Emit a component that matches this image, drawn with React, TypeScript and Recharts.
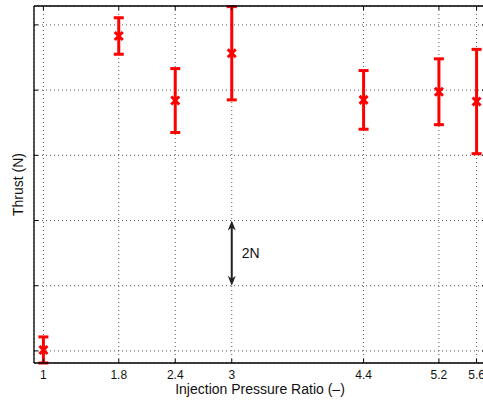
import React from 'react';
import { ScatterChart, Scatter, XAxis, YAxis, CartesianGrid, ErrorBar, ReferenceLine, Label } from 'recharts';

const pressureRatios = [1, 1.8, 2.4, 3, 4.4, 5.2, 5.6];
const thrustValues = [0.03, 9.66, 7.68, 9.13, 7.7, 7.95, 7.65];
const thrustErrors = [0.4, 0.56, 0.98, 1.43, 0.9, 1.01, 1.6];
const xTicks = [1, 1.8, 2.4, 3, 4.4, 5.2, 5.6];
const yTicks = [0, 2, 4, 6, 8, 10];
const xDomain = [0.9, 5.7];
const yDomain = [-0.37, 10.58];
const scaleBar = { x: 3, from: 2, to: 4, text: '2N' };

const data = pressureRatios.map((x, i) => ({ x, y: thrustValues[i], err: thrustErrors[i] }));

const FONT = 'Liberation Sans, Arial, Helvetica, sans-serif';
const RED = '#ff0000';

const BottomTick = (props: any) => {
  const { x, y, payload } = props;
  return (
    <g>
      <line x1={x} x2={x} y1={y} y2={y - 4} stroke="#000" strokeWidth={1} />
      <text x={x} y={y + 15.5} textAnchor="middle" fontSize={12} fill="#111" fontFamily={FONT}>
        {payload.value}
      </text>
    </g>
  );
};

const TopTick = (props: any) => {
  const { x, y } = props;
  return <line x1={x} x2={x} y1={y} y2={y + 4} stroke="#000" strokeWidth={1} />;
};

const LeftTick = (props: any) => {
  const { x, y } = props;
  return <line x1={x} x2={x + 4} y1={y} y2={y} stroke="#000" strokeWidth={1} />;
};

const RightTick = (props: any) => {
  const { x, y } = props;
  return <line x1={x} x2={x - 4} y1={y} y2={y} stroke="#000" strokeWidth={1} />;
};

const XMarker = (props: any) => {
  const { cx, cy } = props;
  const s = 4;
  return (
    <g stroke={RED} strokeWidth={3}>
      <line x1={cx - s} y1={cy - s} x2={cx + s} y2={cy + s} />
      <line x1={cx - s} y1={cy + s} x2={cx + s} y2={cy - s} />
    </g>
  );
};

const ArrowShape = (props: any) => {
  const { x1, y1, x2, y2 } = props;
  const top = Math.min(y1, y2);
  const bot = Math.max(y1, y2);
  const x = x1;
  return (
    <g>
      <line x1={x} x2={x2} y1={top + 6} y2={bot - 6} stroke="#222" strokeWidth={2} />
      <polygon points={`${x},${top} ${x - 4},${top + 10} ${x},${top + 7} ${x + 4},${top + 10}`} fill="#222" />
      <polygon points={`${x},${bot} ${x - 4},${bot - 10} ${x},${bot - 7} ${x + 4},${bot - 10}`} fill="#222" />
      <text x={x + 10} y={(top + bot) / 2 + 5} fontSize={14} fill="#111" fontFamily={FONT}>
        {scaleBar.text}
      </text>
    </g>
  );
};

export default function App() {
  return (
    <div style={{ position: 'absolute', left: 0, top: 0, width: 483, height: 400, overflow: 'hidden', background: '#fff' }}>
      <ScatterChart width={500} height={400} margin={{ top: 0, right: 0, bottom: 0, left: 0 }}>
        <CartesianGrid xAxisId={0} yAxisId={0} stroke="#555" strokeDasharray="1 3" strokeWidth={1} />
        <XAxis
          xAxisId={0}
          type="number"
          dataKey="x"
          domain={xDomain}
          ticks={xTicks}
          interval={0}
          allowDataOverflow
          height={37}
          tickSize={0}
          tickMargin={0}
          tickLine={false}
          axisLine={{ stroke: '#000', strokeWidth: 1.3 }}
          tick={<BottomTick />}
        >
          <Label
            content={(p: any) => {
              const vb = p.viewBox;
              return (
                <text x={vb.x + vb.width / 2} y={vb.y + 31} textAnchor="middle" fontSize={14} fill="#111" fontFamily={FONT}>
                  Injection Pressure Ratio (–)
                </text>
              );
            }}
          />
        </XAxis>
        <XAxis
          xAxisId="top"
          orientation="top"
          type="number"
          dataKey="x"
          domain={xDomain}
          ticks={xTicks}
          interval={0}
          allowDataOverflow
          height={6}
          tickSize={0}
          tickMargin={0}
          tickLine={false}
          axisLine={{ stroke: '#000', strokeWidth: 1.3 }}
          tick={<TopTick />}
        />
        <YAxis
          yAxisId={0}
          type="number"
          dataKey="y"
          domain={yDomain}
          ticks={yTicks}
          interval={0}
          allowDataOverflow
          width={34}
          tickSize={0}
          tickMargin={0}
          tickLine={false}
          axisLine={{ stroke: '#000', strokeWidth: 1.3 }}
          tick={<LeftTick />}
        >
          <Label
            content={(p: any) => {
              const vb = p.viewBox;
              const cx = vb.x + vb.width - 11;
              const cy = vb.y + vb.height / 2;
              return (
                <text x={cx} y={cy} transform={`rotate(-90 ${cx} ${cy})`} textAnchor="middle" fontSize={14} fill="#111" fontFamily={FONT}>
                  Thrust (N)
                </text>
              );
            }}
          />
        </YAxis>
        <YAxis
          yAxisId="right"
          orientation="right"
          type="number"
          dataKey="y"
          domain={yDomain}
          ticks={yTicks}
          interval={0}
          allowDataOverflow
          width={14}
          tickSize={0}
          tickMargin={0}
          tickLine={false}
          axisLine={{ stroke: '#000', strokeWidth: 1.3 }}
          tick={<RightTick />}
        />
        <ReferenceLine
          xAxisId={0}
          yAxisId={0}
          segment={[{ x: scaleBar.x, y: scaleBar.to }, { x: scaleBar.x, y: scaleBar.from }]}
          shape={(p: any) => <ArrowShape {...p} />}
        />
        <Scatter data={data} isAnimationActive={false} shape={<XMarker />} xAxisId={0} yAxisId={0}>
          <ErrorBar dataKey="err" direction="y" width={5} stroke={RED} strokeWidth={3} isAnimationActive={false} />
        </Scatter>
      </ScatterChart>
    </div>
  );
}
